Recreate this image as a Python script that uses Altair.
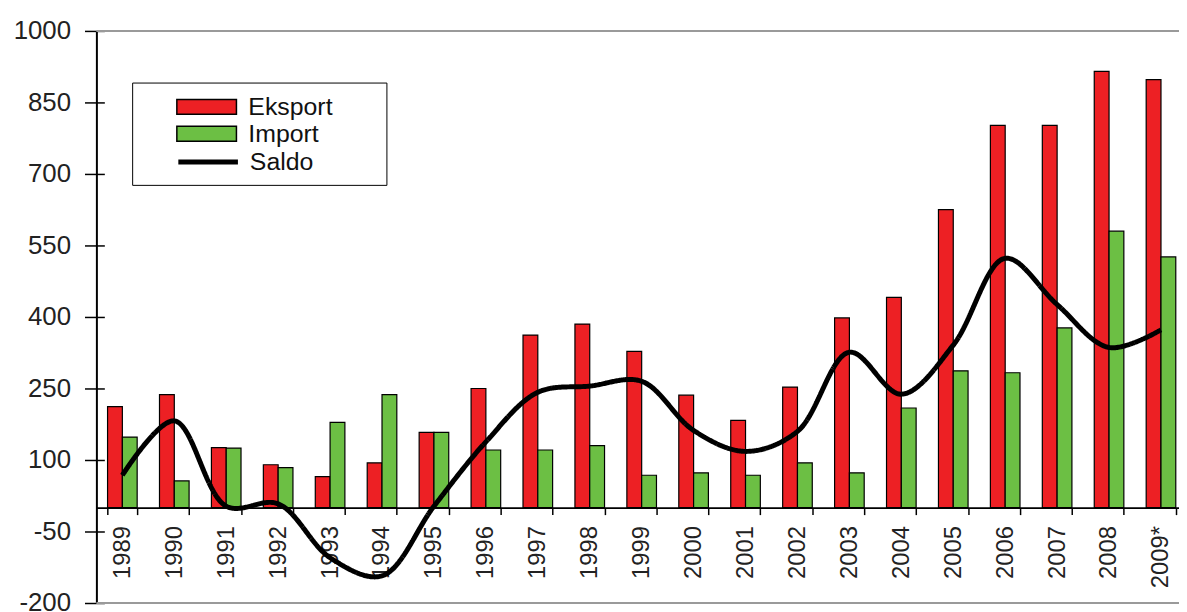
import altair as alt
import pandas as pd

years = ["1989", "1990", "1991", "1992", "1993", "1994", "1995", "1996", "1997", "1998",
         "1999", "2000", "2001", "2002", "2003", "2004", "2005", "2006", "2007", "2008", "2009*"]
eksport = [212, 237, 126, 90, 65, 94, 158, 250, 362, 385,
           328, 236, 183, 253, 398, 441, 625, 802, 802, 915, 898]
import_ = [148, 56, 125, 84, 179, 237, 158, 121, 121, 130,
           68, 73, 68, 94, 73, 209, 287, 283, 377, 580, 526]
saldo = [68, 182, 3, 8, -105, -143, 3, 138, 242, 255,
         265, 162, 118, 160, 326, 238, 341, 523, 426, 336, 373]
series_names = ["Eksport", "Import", "Saldo"]
series_colors = ["#ED2024", "#6CBF44", "transparent"]
series_strokes = ["#000000", "#000000", "transparent"]
y_ticks = [-200, -50, 100, 250, 400, 550, 700, 850, 1000]
frame_values = [-200, 1000]

bars_df = pd.DataFrame({
    "year": years * 2,
    "series": ["Eksport"] * len(years) + ["Import"] * len(years),
    "value": eksport + import_,
})
line_df = pd.DataFrame({"year": years, "series": ["Saldo"] * len(years), "value": saldo})
frame_df = pd.DataFrame({"v": frame_values})

FONT = "Liberation Sans"
PAD = "\u00a0" + "\u2800" * 2

x_enc = alt.X(
    "year:N", sort=years, title=None,
    scale=alt.Scale(paddingInner=0.43, paddingOuter=0.215, range=[0, 1098]),
    axis=alt.Axis(
        labelAngle=-90, labelFontSize=24, labelFont=FONT, labelColor="#222222",
        labelPadding=11, labelOverlap=False, tickBand="extent", tickSize=7,
        tickColor="#000000", tickWidth=1.5, domainColor="#000000", domainWidth=1.8,
        offset=-96, grid=False,
    ),
)
y_scale = alt.Scale(domain=[-200, 1000], nice=False, zero=False)
y_enc = alt.Y(
    "value:Q", title=None, scale=y_scale,
    axis=alt.Axis(
        orient="left", values=y_ticks, grid=False, labelFontSize=26, labelFont=FONT,
        labelColor="#222222", labelPadding=14, tickSize=12, tickColor="#000000",
        tickWidth=1.5, domainColor="#000000", domainWidth=2,
        labelExpr="datum.value < 0 ? '-' + abs(datum.value) : '' + datum.value",
    ),
)

bar_legend = alt.Legend(
    title=None, orient="none", legendX=36, legendY=52,
    strokeColor="#000000", fillColor="#FFFFFF", padding=11,
    symbolType="M-2.4,-0.6H2.4V0.6H-2.4Z", symbolSize=625, symbolOffset=50.5,
    symbolStrokeWidth=1.5, labelOffset=28.5, rowPadding=0,
    labelFontSize=25, labelFont=FONT, labelColor="#111111",
    labelExpr="datum.label === 'Saldo' ? '' : datum.label + '" + PAD + "'",
)
line_legend = alt.Legend(
    title=None, orient="none", legendX=47, legendY=117, padding=0,
    symbolType="M-2.4,0H2.4", symbolSize=625, symbolOffset=50.5,
    symbolStrokeColor="#000000", symbolStrokeWidth=5, labelOffset=27,
    labelFontSize=25, labelFont=FONT, labelColor="#111111",
)

frame = alt.Chart(frame_df).mark_rule(color="#9A9A9A", strokeWidth=2).encode(
    y=alt.Y("v:Q", scale=y_scale, title=None,
            axis=alt.Axis(orient="left", offset=-8, values=y_ticks, tickSize=8,
                          tickColor="#000000", tickWidth=1.5, labels=False,
                          domain=False, grid=False))
)

bars = alt.Chart(bars_df).mark_bar(strokeWidth=1.2).encode(
    x=x_enc,
    xOffset=alt.XOffset("series:N", sort=["Eksport", "Import"]),
    y=y_enc,
    color=alt.Color("series:N", scale=alt.Scale(domain=series_names, range=series_colors),
                    legend=bar_legend),
    stroke=alt.Stroke("series:N", scale=alt.Scale(domain=series_names, range=series_strokes),
                      legend=bar_legend),
)

line = alt.Chart(line_df).mark_line(color="#000000", strokeWidth=5, interpolate="catmull-rom").encode(
    x=alt.X("year:N", sort=years),
    y=alt.Y("value:Q", axis=None),
    strokeDash=alt.StrokeDash("series:N", scale=alt.Scale(domain=["Saldo"], range=[[1, 0]]),
                              legend=line_legend),
)

chart = alt.layer(frame, bars, line).resolve_axis(y="independent").properties(
    width=1090, height=576,
    autosize=alt.AutoSizeParams(type="none"),
    padding={"left": 89, "top": 21, "right": 0, "bottom": 10},
).configure_view(strokeWidth=0)

chart.save("out.html", embed_options={"renderer": "svg", "actions": False})
